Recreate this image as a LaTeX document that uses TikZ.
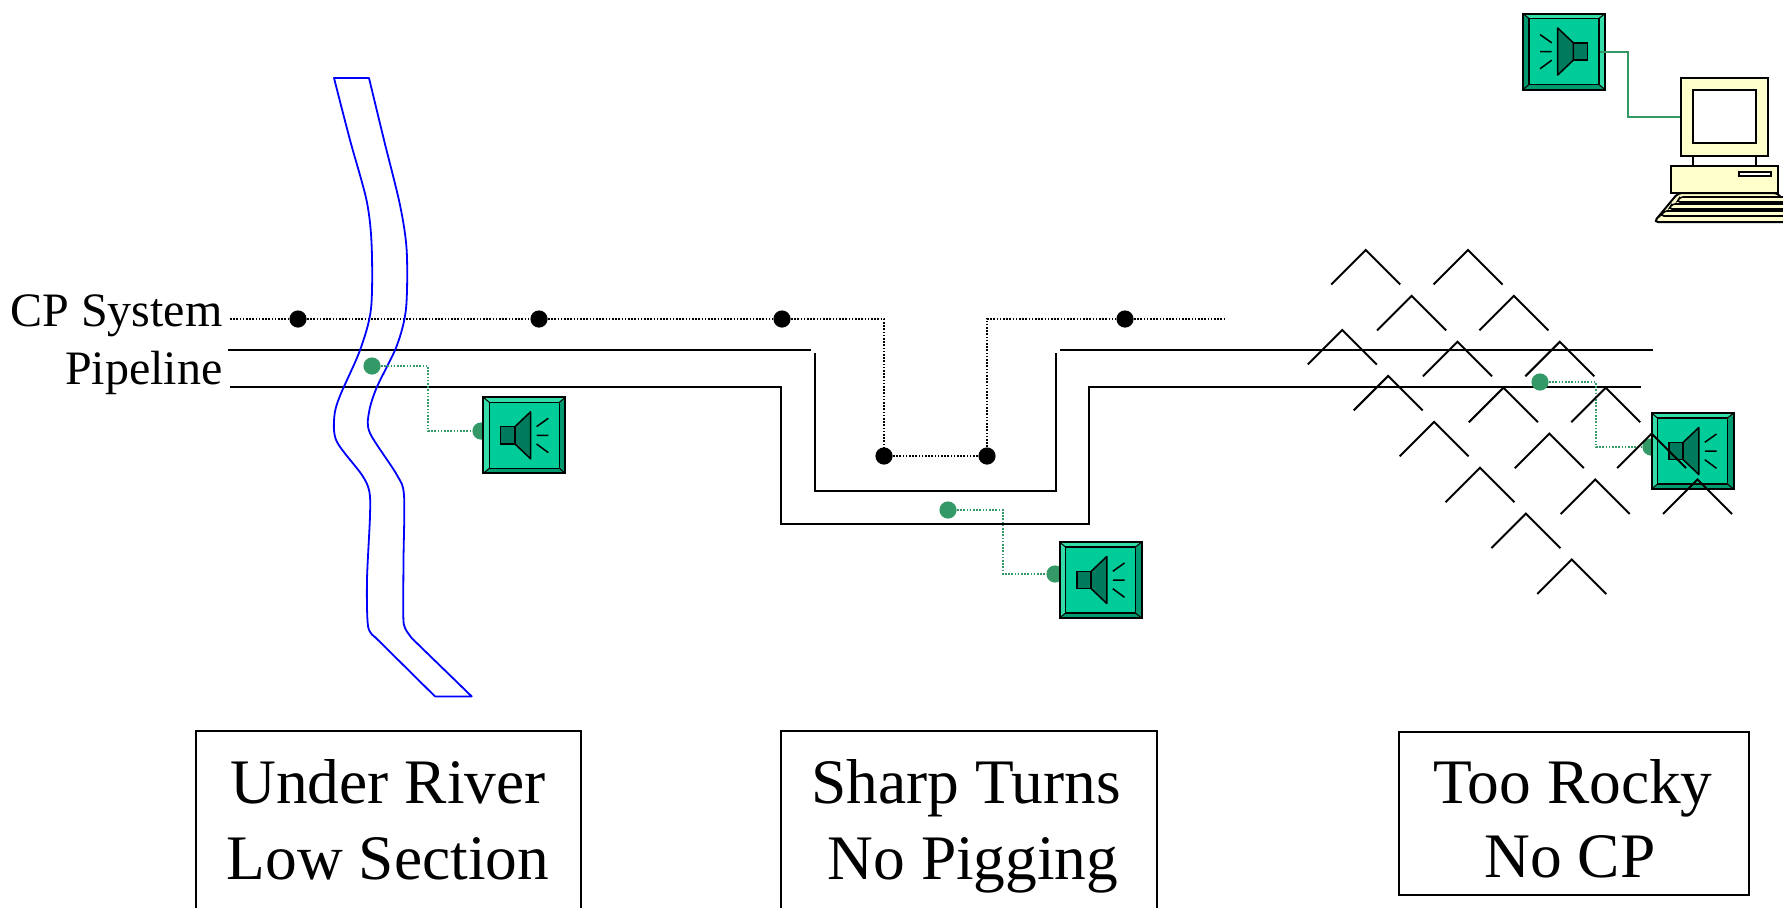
\documentclass[tikz,border=0pt]{standalone}
\usepackage{fontspec}
\setmainfont{Liberation Serif}
\definecolor{sig}{HTML}{339966}
\definecolor{spkface}{HTML}{00CC99}
\definecolor{spklight}{HTML}{33DDAA}
\definecolor{spkdark}{HTML}{009970}
\definecolor{spkbody}{HTML}{007A5C}
\definecolor{pcyellow}{HTML}{FFFFCC}
\tikzset{
  speaker/.pic={
    \fill[spkdark](-41,-38)rectangle(41,38);
    \fill[spklight](-41,-38)--(41,-38)--(35,-33)--(-35,-33)--(-35,33)--(-41,38)--cycle;
    \draw[line width=0.5pt](-41,-38)--(-35,-33)(41,-38)--(35,-33)(41,38)--(35,33)(-41,38)--(-35,33);
    \draw[line width=0.6pt,fill=spkface](-35,-33)rectangle(35,33);
    \draw[line width=1pt](-41,-38)rectangle(41,38);
    %cone and waves
    \draw[line width=0.75pt,fill=spkbody](-23.7,-8.7)rectangle(-9.3,8.7);
    \draw[line width=0.75pt,fill=spkbody,line join=round](-9.3,-8.7)--(6.3,-23.5)--(6.3,23.5)--(-9.3,8.7)--cycle;
    \draw[line width=0.75pt](12.3,-8.7)--(24,-17)(12.3,0)--(24,0)(12.3,8.7)--(24,17.3);
    \coordinate(-port)at(-36,0);
  }
}
\begin{document}
\begin{tikzpicture}[x=0.5pt,y=-0.5pt,
  pipe/.style={line width=1.3pt},
  cpline/.style={line width=0.8pt,dash pattern=on 0.8pt off 0.8pt},
  sigline/.style={sig,line width=0.8pt,dash pattern=on 0.8pt off 0.8pt},
  cpdot/.style={circle,fill,inner sep=0pt,minimum size=8.6pt},
  sigdot/.style={circle,fill=sig,inner sep=0pt,minimum size=8.6pt},
  rock/.style={line width=1pt},
  boxtext/.style={font=\fontsize{31.7}{38}\selectfont,inner sep=0pt,anchor=base},
  sidelabel/.style={font=\fontsize{24}{29}\selectfont,inner sep=0pt,anchor=base east}]
\useasboundingbox(0,0)rectangle(1783,907);
%labels
\node[sidelabel](cpsys)at(223,326){CP System};
\node[sidelabel](pl)at(223,384){Pipeline};
%pipeline
\draw[pipe](228,350)--(811,350)(815,353)--(815,491)--(1056,491)--(1056,353)(1060,350)--(1653,350);
\draw[pipe](230,387)--(781,387)--(781,524)--(1089,524)--(1089,387)--(1641,387);
%CP system
\coordinate(cp0)at(230,319);
\node[cpdot](cp1)at(298,319){};
\node[cpdot](cp2)at(539,319){};
\node[cpdot](cp3)at(782,319){};
\node[cpdot](cp4)at(884,456){};
\node[cpdot](cp5)at(987,456){};
\node[cpdot](cp6)at(1125,319){};
\coordinate(cp7)at(1226,319);
\draw[cpline](cp0)--(cp1)--(cp2)--(cp3)-|(cp4)--(cp5)|-(cp6)--(cp7);
%river
\draw[blue,line width=0.9pt,line join=round](334,78)--(369,78)--plot[smooth,tension=0.5]coordinates{(369,78)(384,140)(400,205)(406.7,250.7)(406,308.8)(396.7,346)(376.7,387.5)(369,412.4)(370,433.1)(396.7,474.6)(404,495.3)(403.5,560)(403.3,615.6)(405,628)(412,638.4)}
  --(471.7,696.4)--(435,696.4)--plot[smooth,tension=0.5]coordinates{(375,637)(368,626)(367,580)(370,516)(369.3,491.2)(361.7,474.6)(336.7,441.4)(334.3,416.6)(340,395.8)(360,350.2)(371,308.8)(371.7,246.6)(366.7,201)(350,140)(334,78)}--cycle;
%sensors
\node[sigdot](gA)at(372,366){};
\node[sigdot](pA)at(481,431){};
\coordinate(kA)at(428,400);
\draw[sigline](gA)-|(kA)|-(pA);
\pic(spkA)at(524.3,435.3){speaker};
\node[sigdot](gB)at(948,510){};
\node[sigdot](pB)at(1055,574){};
\coordinate(kB)at(1003,540);
\draw[sigline](gB)-|(kB)|-(pB);
\pic(spkB)at(1100.5,580){speaker};
\node[sigdot](gC)at(1540,382){};
\node[sigdot](pC)at(1651,447){};
\coordinate(kC)at(1596,410);
\draw[sigline](gC)-|(kC)|-(pC);
\pic(spkC)at(1692.5,451){speaker};
%rocks
\foreach\x/\y in{1365.7/250,1468/250,1342.3/330}
  \foreach\i in{0,...,5}
    \draw[rock]({\x+45.9*\i-34.5},{\y+45.9*\i+34.5})--++(34.5,-34.5)--++(34.5,34.5);
%computer
\pic[xscale=-1](spkT)at(1564,51.5){speaker};
\node[draw,fill=pcyellow,line width=1pt,minimum width=43.5pt,minimum height=39pt,inner sep=0pt](monitor)at(1724.5,117){};
\draw[line width=1pt,fill=white](1693,90)rectangle(1756,143);
\draw[line width=1pt](1693,156)--(1693,166)(1756,156)--(1756,166);
\draw[line width=1pt,fill=pcyellow](1671,166)rectangle(1778,193);
\draw[line width=0.8pt,fill=white](1739,172)rectangle(1771,176);
\draw[line width=1pt,fill=pcyellow,rounded corners=2pt](1678,193)--(1778,193)--(1796,222)--(1654,222)--cycle;
\foreach\t/\l in{197/1677,204/1669,211/1661}
  \draw[line width=0.8pt,fill=pcyellow,rounded corners=1.5pt](\l+3,\t)--(1800,\t)--(1800,\t+5)--(\l,\t+5)--cycle;
\coordinate(kT)at(1628,90);
\draw[sig,line width=1pt](spkT-port)-|(kT)|-(monitor);
%captions
\draw[line width=0.8pt](196,731)rectangle(581,960);
\node[boxtext](c1)at(388,803){Under River};
\node[boxtext](c2)at(388,879){Low Section};
\draw[line width=0.8pt](781,731)rectangle(1157,960);
\node[boxtext](c3)at(966,803){Sharp Turns};
\node[boxtext](c4)at(973,879){No Pigging};
\draw[line width=0.8pt](1399,732)rectangle(1749,895);
\node[boxtext](c5)at(1573,803){Too Rocky};
\node[boxtext](c6)at(1570,877){No CP};
\end{tikzpicture}
\end{document}
